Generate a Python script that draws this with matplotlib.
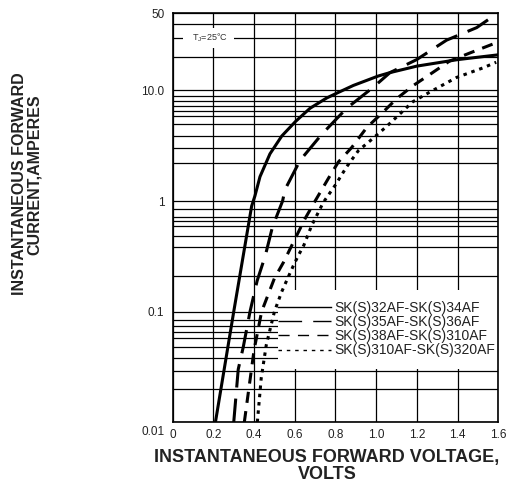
import matplotlib
matplotlib.use('Agg')
import matplotlib.pyplot as plt
from matplotlib.patches import Rectangle
from matplotlib.ticker import FixedLocator, FixedFormatter, NullFormatter
import matplotlib.transforms as mtransforms

plt.rcParams['font.family'] = ['Liberation Sans', 'DejaVu Sans']
plt.rcParams['mathtext.fontset'] = 'custom'
plt.rcParams['mathtext.rm'] = 'Liberation Sans'
plt.rcParams['lines.scale_dashes'] = False

# curves (volts, amperes)
sk32_v = [0.21, 0.30, 0.388, 0.404, 0.429, 0.478, 0.536, 0.604, 0.675, 0.757, 0.809, 0.888,
          1.01, 1.068, 1.20, 1.40, 1.60]
sk32_i = [0.01, 0.10, 0.9, 1.11, 1.66, 2.67, 3.87, 5.25, 6.9, 8.55, 9.5, 11.1,
          13.5, 14.5, 16.6, 19.0, 21.0]

sk35_v = [0.30, 0.322, 0.347, 0.38, 0.415, 0.455, 0.49, 0.54, 0.552, 0.626, 0.732, 0.855,
          0.986, 1.068, 1.199, 1.346, 1.494, 1.59]
sk35_i = [0.01, 0.03, 0.048, 0.10, 0.19, 0.32, 0.58, 1.0, 1.27, 2.33, 4.0, 6.9,
          10.7, 14.5, 19.0, 28.5, 37.0, 49.0]

sk38_v = [0.352, 0.40, 0.437, 0.50, 0.545, 0.60, 0.65, 0.70, 0.765, 0.814, 0.88, 0.953,
          1.035, 1.10, 1.18, 1.265, 1.36, 1.46, 1.59]
sk38_i = [0.01, 0.045, 0.10, 0.20, 0.28, 0.45, 0.69, 1.0, 1.6, 2.25, 3.05, 4.6,
          6.4, 8.4, 11.0, 14.0, 18.4, 21.8, 27.0]

sk310_v = [0.416, 0.435, 0.46, 0.50, 0.535, 0.565, 0.593, 0.617, 0.645, 0.683, 0.74, 0.80,
           0.855, 0.913, 0.97, 1.05, 1.18, 1.265, 1.395, 1.525, 1.59]
sk310_i = [0.01, 0.025, 0.05, 0.10, 0.15, 0.20, 0.26, 0.32, 0.40, 0.60, 0.97, 1.40,
           2.04, 2.86, 3.5, 4.7, 7.9, 9.7, 13.1, 16.0, 18.0]

labels = ['SK(S)32AF-SK(S)34AF', 'SK(S)35AF-SK(S)36AF',
          'SK(S)38AF-SK(S)310AF', 'SK(S)310AF-SK(S)320AF']

x_ticks = [0, 0.2, 0.4, 0.6, 0.8, 1.0, 1.2, 1.4, 1.6]
x_ticklabels = ['0', '0.2', '0.4', '0.6', '0.8', '1.0', '1.2', '1.4', '1.6']
y_ticks = [0.01, 0.1, 1, 10, 50]
y_ticklabels = ['0.01', '0.1', '1', '10.0', '50']
# horizontal grid lines as printed on the sheet
y_grid = [40, 30, 20, 9, 8, 7.2, 6.5, 5.9, 5, 3.9, 3, 2.2,
          0.85, 0.72, 0.66, 0.59, 0.48, 0.38, 0.21,
          0.084, 0.074, 0.066, 0.058, 0.048, 0.038, 0.029, 0.02]

fig = plt.figure(figsize=(5.11, 4.88), dpi=100)
ax = fig.add_axes([0.338, 0.135, 0.637, 0.838])

ax.set_yscale('log')
ax.set_xlim(0, 1.6)
ax.set_ylim(0.01, 50)

ax.xaxis.set_major_locator(FixedLocator(x_ticks))
ax.xaxis.set_major_formatter(FixedFormatter(x_ticklabels))
ax.yaxis.set_major_locator(FixedLocator(y_ticks))
ax.yaxis.set_major_formatter(FixedFormatter(y_ticklabels))
ax.yaxis.set_minor_locator(FixedLocator(y_grid))
ax.yaxis.set_minor_formatter(NullFormatter())
ax.tick_params(which='both', length=0, labelsize=8.5, labelcolor='#222222')
ax.tick_params(axis='y', pad=6)
ax.tick_params(axis='x', pad=5)

ax.set_axisbelow(True)
ax.grid(True, which='both', color='black', linewidth=0.9)
for s in ax.spines.values():
    s.set_linewidth(1.2)

# shift the corner label "0.01" a little down like on the sheet
lbl = ax.get_yticklabels()[0]
lbl.set_transform(lbl.get_transform() + mtransforms.ScaledTranslation(0, -6 / 72, fig.dpi_scale_trans))

lw = 2.2
ax.plot(sk32_v, sk32_i, color='black', linewidth=lw, label=labels[0], zorder=3)
ax.plot(sk35_v, sk35_i, color='black', linewidth=lw, dashes=(17, 8), label=labels[1], zorder=3)
ax.plot(sk38_v, sk38_i, color='black', linewidth=lw, dashes=(8, 6), label=labels[2], zorder=3)
ax.plot(sk310_v, sk310_i, color='black', linewidth=lw, dashes=(2.5, 3.5), label=labels[3], zorder=3)

# white area behind the legend
ax.add_patch(Rectangle((0.323, 0.13), 0.677, 0.193, transform=ax.transAxes,
                       facecolor='white', edgecolor='none', zorder=1))

leg = ax.legend(loc='upper left', bbox_to_anchor=(0.323, 0.297), frameon=False,
                fontsize=10, handlelength=3.8, handletextpad=0.3,
                labelspacing=0.02, borderpad=0, borderaxespad=0)
for line in leg.get_lines():
    line.set_linewidth(1.0)
for t in leg.get_texts():
    t.set_color('#222222')

ax.text(0.178, 30, '  T$_\\mathregular{J}$=25\u00b0C  ', fontsize=6.5, ha='center', va='center',
        color='#333333', zorder=2,
        bbox=dict(boxstyle='square,pad=0.4', facecolor='white', edgecolor='none'))

fig.text(0.039, 0.624, 'INSTANTANEOUS FORWARD', rotation=90, ha='center', va='center',
         fontsize=11.5, fontweight='bold', color='#222222')
fig.text(0.068, 0.642, 'CURRENT,AMPERES', rotation=90, ha='center', va='center',
         fontsize=11.5, fontweight='bold', color='#222222')
fig.text(0.64, 0.062, 'INSTANTANEOUS FORWARD VOLTAGE,', ha='center', va='center',
         fontsize=13, fontweight='bold', color='#222222')
fig.text(0.64, 0.027, 'VOLTS', ha='center', va='center',
         fontsize=13, fontweight='bold', color='#222222')

fig.savefig('out.png', dpi=100)
